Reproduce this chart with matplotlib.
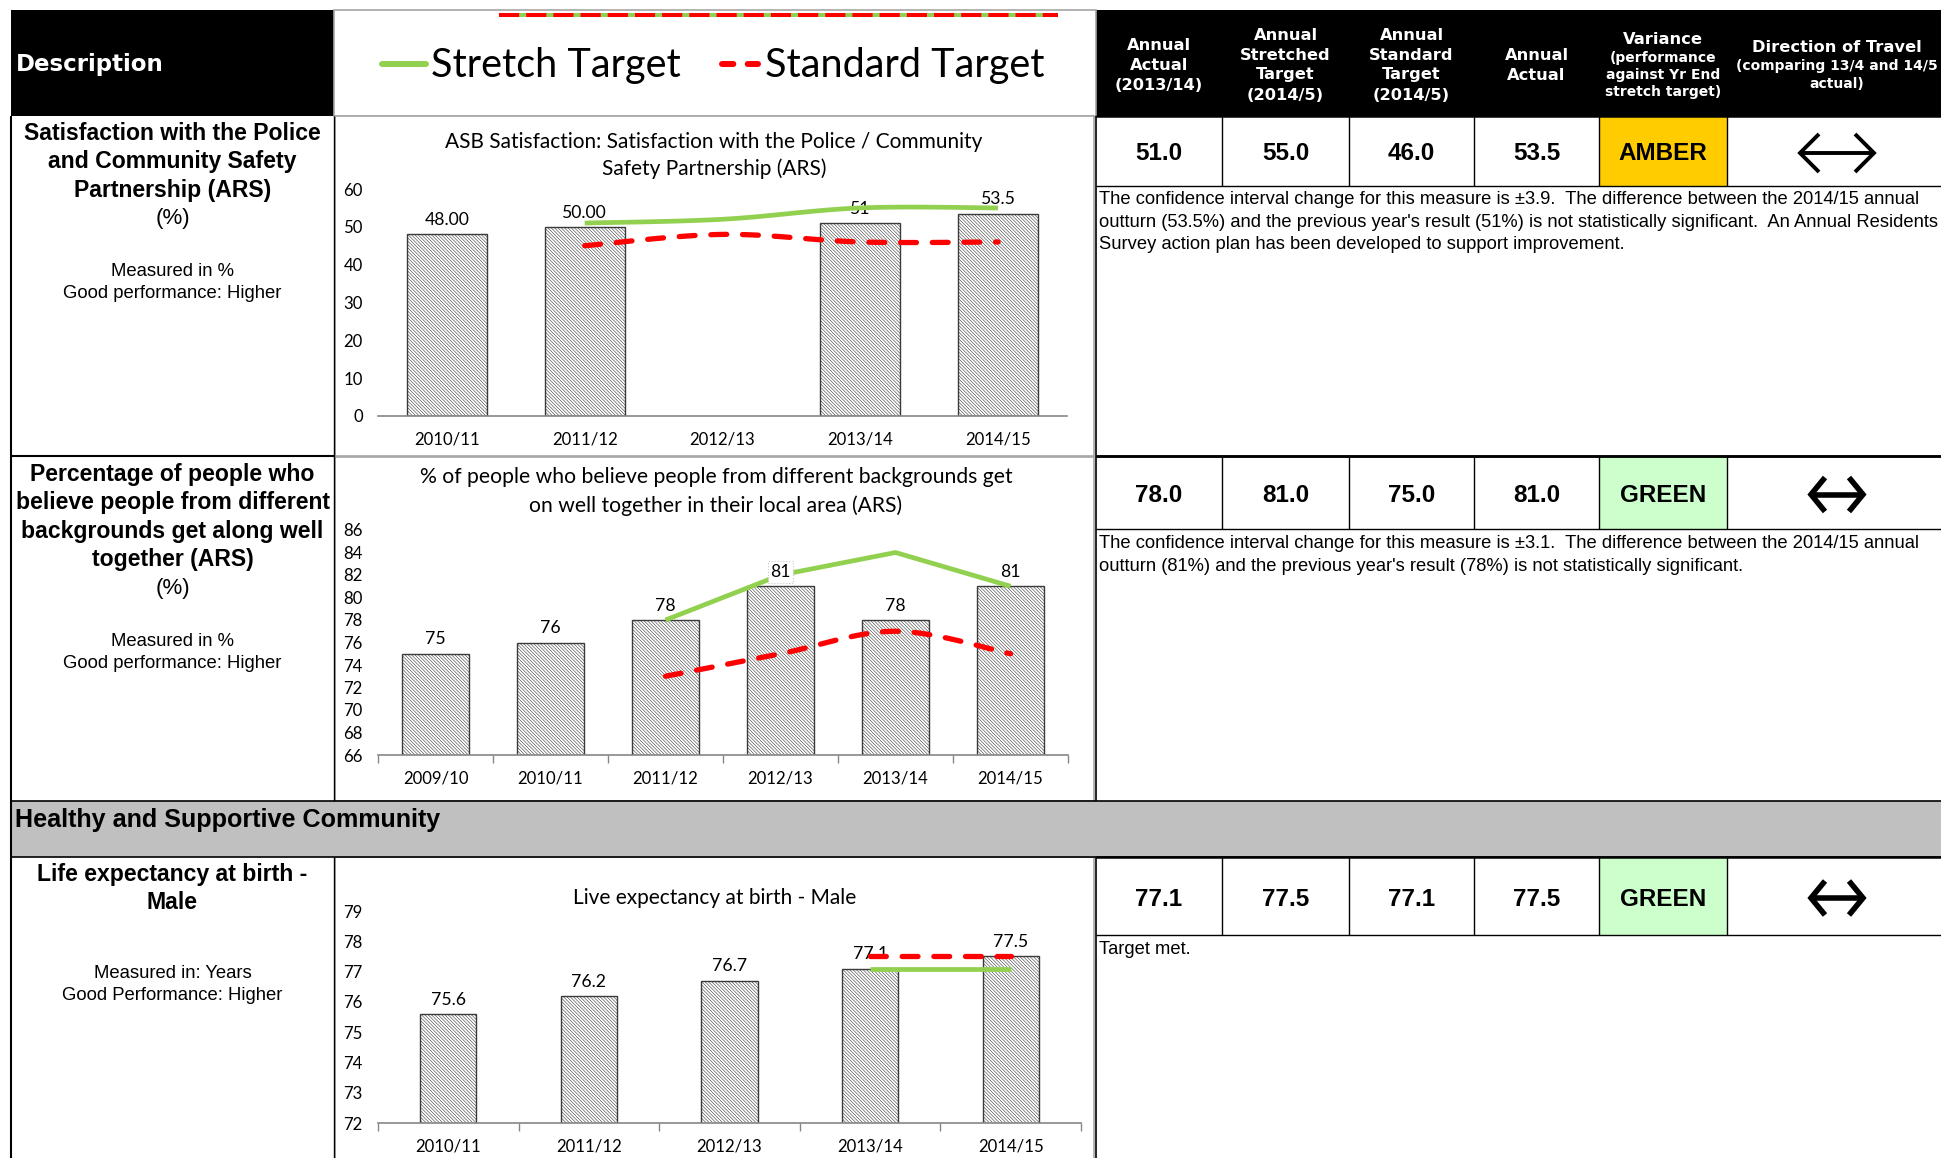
import numpy as np
import matplotlib
matplotlib.use("Agg")
import matplotlib.pyplot as plt
from matplotlib import font_manager
from matplotlib.patches import Rectangle

# ---------------------------------------------------------------- data
asb_years = ["2010/11", "2011/12", "2012/13", "2013/14", "2014/15"]
asb_actual = [48.0, 50.0, np.nan, 51.0, 53.5]
asb_label_fmt = ["{:.2f}", "{:.2f}", "", "{:.0f}", "{:.1f}"]
asb_stretch = [np.nan, 51.0, 52.0, 55.0, 55.0]
asb_standard = [np.nan, 45.0, 48.0, 46.0, 46.0]

coh_years = ["2009/10", "2010/11", "2011/12", "2012/13", "2013/14", "2014/15"]
coh_actual = [75, 76, 78, 81, 78, 81]
coh_label_fmt = ["{:.0f}"] * 6
coh_stretch = [np.nan, np.nan, 78, 82, 84, 81]
coh_standard = [np.nan, np.nan, 73, 75, 77, 75]

life_years = ["2010/11", "2011/12", "2012/13", "2013/14", "2014/15"]
life_actual = [75.6, 76.2, 76.7, 77.1, 77.5]
life_label_fmt = ["{:.1f}"] * 5
life_stretch = [np.nan, np.nan, np.nan, 77.1, 77.1]
life_standard = [np.nan, np.nan, np.nan, 77.5, 77.5]

chart_titles = [
    ["ASB Satisfaction: Satisfaction with the Police / Community",
     "Safety Partnership (ARS)"],
    ["% of people who believe people from different backgrounds get",
     "on well together in their local area (ARS)"],
    ["Live expectancy at birth - Male"],
]

# scorecard columns
header_cols = [
    ["Annual", "Actual", "(2013/14)"],
    ["Annual", "Stretched", "Target", "(2014/5)"],
    ["Annual", "Standard", "Target", "(2014/5)"],
    ["Annual", "Actual"],
]
actual_1314 = [51.0, 78.0, 77.1]
stretch_1415 = [55.0, 81.0, 77.5]
standard_1415 = [46.0, 75.0, 77.1]
actual_1415 = [53.5, 81.0, 77.5]
rag_status = ["AMBER", "GREEN", "GREEN"]

descriptions = [
    (["Satisfaction with the Police", "and Community Safety", "Partnership (ARS)"],
     "(%)", ["Measured in %", "Good performance: Higher"]),
    (["Percentage of people who", "believe people from different",
      "backgrounds get along well", "together (ARS)"],
     "(%)", ["Measured in %", "Good performance: Higher"]),
    (["Life expectancy at birth -", "Male"],
     "", ["Measured in: Years", "Good Performance: Higher"]),
]
comments = [
    ["The confidence interval change for this measure is \u00b13.9.  The difference between the 2014/15 annual",
     "outturn (53.5%) and the previous year's result (51%) is not statistically significant.  An Annual Residents",
     "Survey action plan has been developed to support improvement."],
    ["The confidence interval change for this measure is \u00b13.1.  The difference between the 2014/15 annual",
     "outturn (81%) and the previous year's result (78%) is not statistically significant."],
    ["Target met."],
]
section_title = "Healthy and Supportive Community"

# ---------------------------------------------------------------- styling
GREEN = "#92D050"
RED = "#FF0000"
AMBER_BG = "#FFCC00"
GREEN_BG = "#CCFFCC"
BAND = "#C0C0C0"
AXIS_GREY = "#868686"

names = {f.name for f in font_manager.fontManager.ttflist}
ARIAL = "Liberation Sans"
NARROW = "Liberation Sans Narrow" if "Liberation Sans Narrow" in names else ARIAL
CHART = "Lato" if "Lato" in names else "DejaVu Sans"
HEAD = "DejaVu Sans"

plt.rcParams["hatch.linewidth"] = 0.4
plt.rcParams["hatch.color"] = "#404040"

W, H = 1941, 1158
fig = plt.figure(figsize=(W / 100, H / 100), dpi=100)
fig.patch.set_facecolor("white")
bg = fig.add_axes([0, 0, 1, 1])
bg.set_xlim(0, W)
bg.set_ylim(H, 0)
bg.set_autoscale_on(False)
bg.axis("off")

renderer = fig.canvas.get_renderer()
DY = 2.0  # text baseline nudge (pixels, downwards)


def fit(s, width_px, **kw):
    """Font size (pt) that makes string s span width_px pixels."""
    t = fig.text(0, 0, s, fontsize=20, **kw)
    w = t.get_window_extent(renderer=renderer).width
    t.remove()
    return 20.0 * width_px / w


def put(x, y, s, size, family, weight="normal", ha="center", color="black"):
    bg.text(x, y + DY, s, fontsize=size, family=family, fontweight=weight,
            ha=ha, va="center", color=color)


def rect(x0, y0, x1, y1, fc="none", ec="none", lw=1.0, z=1):
    bg.add_patch(Rectangle((x0, y0), x1 - x0, y1 - y0, facecolor=fc,
                           edgecolor=ec, linewidth=lw, zorder=z))


def hline(y, x0, x1, lw=1.0, color="black", z=3):
    bg.plot([x0, x1], [y, y], color=color, lw=lw, zorder=z, solid_capstyle="butt")


def vline(x, y0, y1, lw=1.0, color="black", z=3):
    bg.plot([x, x], [y0, y1], color=color, lw=lw, zorder=z, solid_capstyle="butt")


def px_axes(x0, y0, x1, y1):
    return fig.add_axes([x0 / W, 1 - y1 / H, (x1 - x0) / W, (y1 - y0) / H])


def bezier_smooth(xs, ys, steps=30):
    """Smoothed polyline through the points (cubic Bezier, Catmull-Rom tangents)."""
    p = np.column_stack([xs, ys]).astype(float)
    out = [p[0]]
    t = np.linspace(0, 1, steps)[1:, None]
    for i in range(len(p) - 1):
        p0 = p[i - 1] if i > 0 else p[i]
        p1, p2 = p[i], p[i + 1]
        p3 = p[i + 2] if i + 2 < len(p) else p[i + 1]
        c1 = p1 + (p2 - p0) / 6.0
        c2 = p2 - (p3 - p1) / 6.0
        seg = ((1 - t) ** 3) * p1 + 3 * ((1 - t) ** 2) * t * c1 \
            + 3 * (1 - t) * t ** 2 * c2 + t ** 3 * p2
        out.extend(seg)
    out = np.array(out)
    return out[:, 0], out[:, 1]


# ---------------------------------------------------------------- font sizes
fs_head_desc = fit("Description", 148, family=HEAD, fontweight="bold")
fs_head = fit("Stretched", 90, family=HEAD, fontweight="bold")
fs_head_small = fit("against Yr End", 114, family=HEAD, fontweight="bold")
fs_legend = fit("Stretch Target", 250, family=CHART)
fs_desc_bold = fit("believe people from different", 314, family=ARIAL, fontweight="bold")
fs_desc_reg = fit("Good performance: Higher", 218, family=ARIAL)
fs_value = fit("AMBER", 89, family=NARROW, fontweight="bold")
fs_comment = fit(comments[0][0], 822, family=NARROW)
fs_section = fit(section_title, 426, family=NARROW, fontweight="bold")
fs_tick = fit("2010/11", 66, family=CHART)
fs_label = fit("48.00", 45, family=CHART)
fs_titles = [fit(chart_titles[0][0], 538, family=CHART),
             fit(chart_titles[1][0], 592, family=CHART),
             fit(chart_titles[2][0], 285, family=CHART)]

# ---------------------------------------------------------------- header row
rect(11, 10, 334, 116, fc="black", z=1)
rect(1096, 10, W + 5, 116, fc="black", z=1)
rect(334, 10, 1096, 116, fc="white", ec="#A6A6A6", lw=1.2, z=1)
put(16, 63, "Description", fs_head_desc, HEAD, "bold", ha="left", color="white")

# legend
bg.plot([499, 1058], [14.5, 14.5], color=GREEN, lw=2.9, solid_capstyle="butt", zorder=4)
bg.plot([499, 1058], [14.5, 14.5], color=RED, lw=2.9, dashes=(5, 1.75),
        dash_capstyle="butt", zorder=5)
bg.plot([382, 426], [64, 64], color=GREEN, lw=4.3, solid_capstyle="round", zorder=4)
put(431, 63, "Stretch Target", fs_legend, CHART, ha="left")
bg.plot([722, 758], [64, 64], color=RED, lw=4.3, dashes=(1.9, 2.4),
        dash_capstyle="round", zorder=4)
put(765, 63, "Standard Target", fs_legend, CHART, ha="left")

col_edges = [1096, 1222, 1349, 1474, 1599, 1727, W]
col_centers = [(a + b) / 2 for a, b in zip(col_edges[:-1], col_edges[1:])]
col_centers[5] = 1837

for cx, lines in zip(col_centers[:4], header_cols):
    n = len(lines)
    for k, s in enumerate(lines):
        put(cx, 63 + (k - (n - 1) / 2) * 20, s, fs_head, HEAD, "bold", color="white")
put(col_centers[4], 37, "Variance", fs_head, HEAD, "bold", color="white")
for y, s in zip([56, 73, 90], ["(performance", "against Yr End", "stretch target)"]):
    put(col_centers[4], y, s, fs_head_small, HEAD, "bold", color="white")
put(col_centers[5], 46, "Direction of Travel", fs_head, HEAD, "bold", color="white")
for y, s in zip([64, 82], ["(comparing 13/4 and 14/5", "actual)"]):
    put(col_centers[5], y, s, fs_head_small, HEAD, "bold", color="white")

# ---------------------------------------------------------------- row frames
row_bands = [(116, 186), (456, 529), (857, 935)]
chart_boxes = [(335, 116, 1094, 456), (335, 457, 1094, 801), (335, 857, 1094, 1175)]
for (x0, y0, x1, y1) in chart_boxes:
    rect(x0, y0, x1, y1, fc="white", ec="#A6A6A6", lw=1.2, z=1)

# section band
rect(11, 801, W + 5, 857, fc=BAND, ec="black", lw=1.2, z=2)
put(15, 818, section_title, fs_section, NARROW, "bold", ha="left")

vline(11, 116, H + 5, lw=1.5)
vline(334, 116, 801, lw=1.0)
vline(334, 857, H + 5, lw=1.0)
hline(456, 11, 334, lw=1.5)
vline(1096, 116, 801, lw=1.2)
vline(1096, 857, H + 5, lw=1.2)
hline(456, 1096, W, lw=1.8)

# ---------------------------------------------------------------- description cells
desc_layout = [(131, 269), (472, 639), (872, 971)]
for (bold_lines, unit, reg_lines), (yb, yr) in zip(descriptions, desc_layout):
    y = yb
    for s in bold_lines:
        put(172.5, y, s, fs_desc_bold, ARIAL, "bold")
        y += 28.6
    if unit:
        put(172.5, y, unit, fs_desc_bold * 0.97, ARIAL)
    for k, s in enumerate(reg_lines):
        put(172.5, yr + 22.5 * k, s, fs_desc_reg, ARIAL)


# ---------------------------------------------------------------- scorecard values
def double_arrow(cx, cy, half, head_w, head_h, lw):
    x0, x1 = cx - half, cx + half
    bg.plot([x0 + 2, x1 - 2], [cy, cy], color="black", lw=lw, solid_capstyle="butt", zorder=4)
    bg.plot([x0 + head_w, x0, x0 + head_w], [cy - head_h, cy, cy + head_h],
            color="black", lw=lw, solid_joinstyle="miter", solid_capstyle="butt", zorder=4)
    bg.plot([x1 - head_w, x1, x1 - head_w], [cy - head_h, cy, cy + head_h],
            color="black", lw=lw, solid_joinstyle="miter", solid_capstyle="butt", zorder=4)


arrow_styles = [(37, 19, 19, 2.8), (26, 14, 17, 4.0), (26, 14, 17, 4.0)]
for i, (top, bot) in enumerate(row_bands):
    cy = (top + bot) / 2
    rag = rag_status[i]
    rect(1599, top, 1727, bot, fc=AMBER_BG if rag == "AMBER" else GREEN_BG, z=2)
    for x in col_edges[1:-1]:
        vline(x, top, bot, lw=1.0)
    hline(top, 1096, W, lw=1.8)
    hline(bot, 1096, W, lw=1.0)
    vals = [actual_1314[i], stretch_1415[i], standard_1415[i], actual_1415[i]]
    for cx, v in zip(col_centers[:4], vals):
        put(cx, cy + 1, f"{v:.1f}", fs_value, NARROW, "bold")
    put(col_centers[4], cy + 1, rag, fs_value, NARROW, "bold")
    half, hw, hh, lw = arrow_styles[i]
    double_arrow(col_centers[5], cy + 2, half, hw, hh, lw)

comment_starts = [198, 542, 947]
for lines, y0 in zip(comments, comment_starts):
    for k, s in enumerate(lines):
        put(1099, y0 + 22.3 * k, s, fs_comment, NARROW, ha="left")


# ---------------------------------------------------------------- charts
def chart(area, years, actual, fmts, stretch, standard, ylo, yhi, ystep, bar_w,
          smooth_green, smooth_red, edge_ticks, boxed=()):
    ax = px_axes(*area)
    ax.set_facecolor("none")
    x = np.arange(len(years))
    vals = np.asarray(actual, float)
    ax.bar(x, vals, width=bar_w, color="white", edgecolor="#3A3A3A", linewidth=1.0,
           hatch="\\" * 10, zorder=2)
    for xi, v, f in zip(x, vals, fmts):
        if np.isnan(v) or not f:
            continue
        box = None
        z = 3
        if xi in boxed:
            box = dict(facecolor="white", edgecolor="#C8C8C8", linestyle=":",
                       linewidth=0.8, boxstyle="square,pad=0.15")
            z = 6
        ax.annotate(f.format(v), (xi, v), xytext=(0, 4.5), textcoords="offset points",
                    ha="center", va="bottom", fontsize=fs_label, family=CHART,
                    bbox=box, zorder=z, annotation_clip=False)
    for series, color, smooth, dashed in ((stretch, GREEN, smooth_green, False),
                                         (standard, RED, smooth_red, True)):
        s = np.asarray(series, float)
        ok = ~np.isnan(s)
        xs, ys = x[ok].astype(float), s[ok]
        if smooth and len(xs) > 2:
            xs, ys = bezier_smooth(xs, ys)
        kw = dict(color=color, lw=3.4, zorder=4, solid_capstyle="butt")
        if dashed:
            kw.update(lw=3.8, dashes=(3.0, 3.0), dash_capstyle="round")
        ax.plot(xs, ys, **kw)
    ax.set_xlim(-0.5, len(years) - 0.5)
    ax.set_ylim(ylo, yhi)
    ax.set_yticks(np.arange(ylo, yhi + ystep / 2, ystep))
    ax.set_xticks(x, years)
    for sp in ("top", "right", "left"):
        ax.spines[sp].set_visible(False)
    ax.spines["bottom"].set_color(AXIS_GREY)
    ax.spines["bottom"].set_linewidth(1.2)
    ax.tick_params(axis="y", length=0, pad=11, labelsize=fs_tick)
    ax.tick_params(axis="x", which="major", length=0, pad=11, labelsize=fs_tick)
    if edge_ticks:
        ax.set_xticks(np.arange(-0.5, len(years)), minor=True)
        ax.tick_params(axis="x", which="minor", length=6, color=AXIS_GREY,
                       width=1.0, direction="out")
    for lab in ax.get_xticklabels() + ax.get_yticklabels():
        lab.set_family(CHART)
    return ax


chart((378, 189, 1067, 416), asb_years, asb_actual, asb_label_fmt,
      asb_stretch, asb_standard, 0, 60, 10, 0.58, True, True, False)
chart((378, 530, 1068, 755), coh_years, coh_actual, coh_label_fmt,
      coh_stretch, coh_standard, 66, 86, 2, 0.58, False, True, True, boxed=(3,))
chart((378, 911, 1081, 1123), life_years, life_actual, life_label_fmt,
      life_stretch, life_standard, 72, 79, 1, 0.40, False, False, True)

title_pos = [(714, [140, 167]), (716, [475, 504]), (715, [896])]
for lines, (cx, ys), fs in zip(chart_titles, title_pos, fs_titles):
    for s, y in zip(lines, ys):
        put(cx, y, s, fs, CHART)

fig.savefig("out.png", dpi=100, facecolor="white")
